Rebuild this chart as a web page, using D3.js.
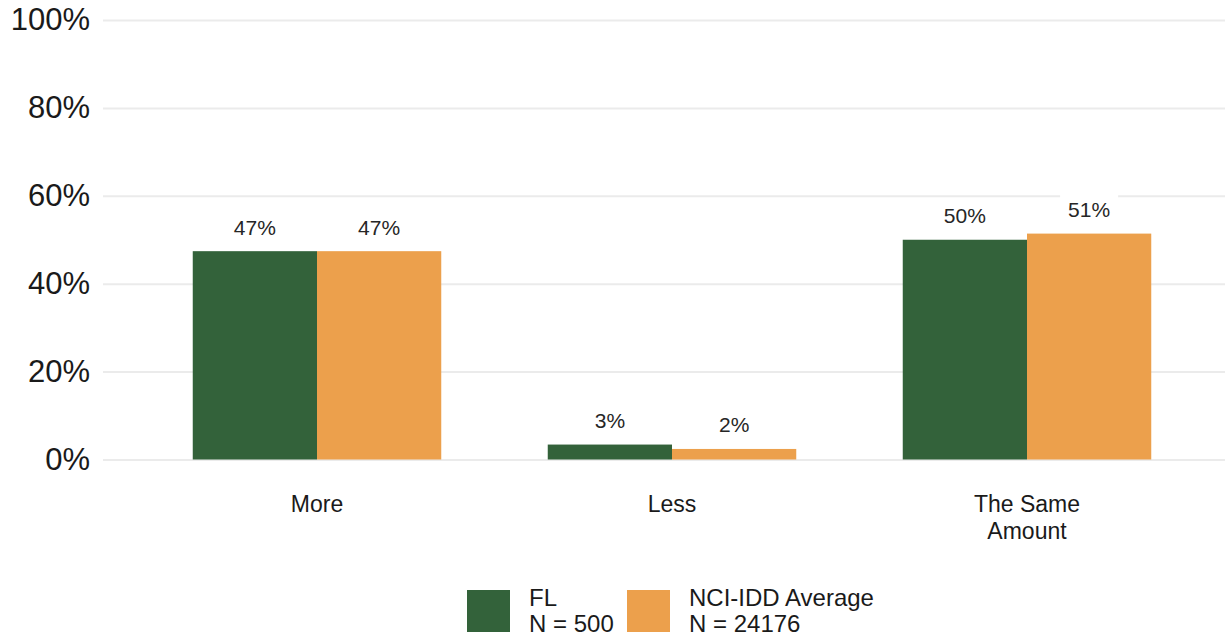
<!DOCTYPE html>
<html>
<head>
<meta charset="utf-8">
<script src="https://cdn.jsdelivr.net/npm/d3@7"></script>
<style>
  html, body { margin: 0; padding: 0; background: #fff; }
  svg { display: block; font-family: "Liberation Sans", Arial, sans-serif; }
</style>
</head>
<body>
<svg id="chart" width="1228" height="639"></svg>
<script>
const categories = ["More", "Less", "The Same Amount"];
const categoryLines = [["More"], ["Less"], ["The Same", "Amount"]];
const seriesNames = ["FL", "NCI-IDD Average"];
const seriesSub = ["N = 500", "N = 24176"];
const seriesColors = ["#33623a", "#eca04c"];
const flValues = [47.4, 3.4, 50.0];
const nciValues = [47.4, 2.4, 51.4];
const yTicks = [0, 20, 40, 60, 80, 100];

const svg = d3.select("#chart");
const margin = { left: 103, right: 3, top: 20, bottom: 180 };
const W = 1228, H = 639;
const y0 = 459.5, y1 = 20;

const x = d3.scaleBand().domain(categories).range([139.5, 1204.5]).paddingInner(0.3).paddingOuter(0.15);
const xs = d3.scaleBand().domain(seriesNames).range([0, x.bandwidth()]);
const y = d3.scaleLinear().domain([0, 100]).range([y0, y1]);

// gridlines
const yAxis = d3.axisLeft(y).tickValues(yTicks).tickFormat(d => d + "%").tickSize(0).tickPadding(13);
const gy = svg.append("g").attr("transform", `translate(${margin.left},0)`).call(yAxis);
gy.select(".domain").remove();
gy.selectAll(".tick line").clone()
  .attr("x2", W - margin.left - margin.right)
  .attr("stroke", "#ebebeb").attr("stroke-width", 2);
gy.selectAll(".tick text").attr("font-size", 31).attr("fill", "#1a1a1a").attr("font-family", "Liberation Sans, Arial, sans-serif");

const data = categories.map((c, i) => ({ cat: c, vals: [flValues[i], nciValues[i]] }));

const groups = svg.append("g").selectAll("g").data(data).join("g")
  .attr("transform", d => `translate(${x(d.cat)},0)`);

groups.selectAll("rect").data(d => d.vals.map((v, j) => ({ v, s: seriesNames[j], j })))
  .join("rect")
  .attr("x", d => xs(d.s))
  .attr("y", d => y(d.v))
  .attr("width", xs.bandwidth())
  .attr("height", d => y(0) - y(d.v))
  .attr("fill", d => seriesColors[d.j]);

// value labels with white background
const labels = groups.selectAll("g.lab").data(d => d.vals.map((v, j) => ({ v, s: seriesNames[j], j })))
  .join("g").attr("class", "lab")
  .attr("transform", d => `translate(${xs(d.s) + xs.bandwidth() / 2},${y(d.v) - 24})`);
labels.append("rect").attr("x", -29).attr("y", -16).attr("width", 58).attr("height", 32).attr("fill", "#fff");
labels.append("text")
  .attr("text-anchor", "middle").attr("dy", "0.35em")
  .attr("font-size", 21).attr("fill", "#262626")
  .text(d => Math.round(d.v) + "%");

// category labels
const xl = svg.append("g").selectAll("text").data(categories).join("text")
  .attr("x", d => x(d) + x.bandwidth() / 2)
  .attr("y", 512)
  .attr("text-anchor", "middle")
  .attr("font-size", 23).attr("fill", "#1a1a1a");
xl.each(function(d, i) {
  d3.select(this).selectAll("tspan").data(categoryLines[i]).join("tspan")
    .attr("x", x(d) + x.bandwidth() / 2)
    .attr("dy", (t, k) => k === 0 ? 0 : 27)
    .text(t => t);
});

// legend
const legX = [467, 627];
const leg = svg.append("g").selectAll("g").data(seriesNames).join("g")
  .attr("transform", (d, i) => `translate(${legX[i]},590)`);
leg.append("rect").attr("width", 43).attr("height", 42).attr("fill", (d, i) => seriesColors[i]);
leg.append("text").attr("x", 62).attr("y", 16).attr("font-size", 24).attr("fill", "#1a1a1a").text(d => d);
leg.append("text").attr("x", 62).attr("y", 42).attr("font-size", 24).attr("fill", "#1a1a1a").text((d, i) => seriesSub[i]);
</script>
</body>
</html>
